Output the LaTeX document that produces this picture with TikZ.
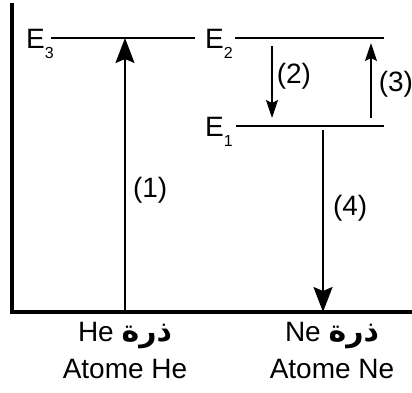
\documentclass[tikz,border=0pt]{standalone}
\usepackage{fontspec}
\setmainfont{Liberation Sans}
\newfontfamily\arabicfont[Script=Arabic]{DejaVu Sans}
\TeXXeTstate=1
\usepackage{tikz}
\usetikzlibrary{positioning,calc,arrows.meta}
\newcommand{\lev}[1]{E\raisebox{-10pt}{\fontsize{16}{16}\selectfont #1}}
\newcommand{\dharra}{{\arabicfont\bfseries\fontsize{30}{37}\selectfont\beginR ذرة\endR}}

\begin{document}
\begin{tikzpicture}[
      x=1pt, y=-1pt,
      axis/.style={line width=3.2pt},
      level/.style={line width=1.6pt},
      bigarrow/.style={-{Stealth[length=25pt,width=19pt,inset=4pt]}, line width=2pt},
      smallarrow/.style={-{Stealth[length=18pt,width=12pt,inset=3pt]}, line width=1.7pt},
      lbl/.style={font=\fontsize{28}{37}\selectfont, inner sep=0pt, align=center}
    ]
      \useasboundingbox (0,0) rectangle (412,392);

      % axes
      \coordinate (top) at (12,3);
      \coordinate (origin) at (12,312);
      \coordinate (far) at (412,312);
      \draw[axis] (top) -- (origin) -- (far);

      % energy levels
      \node[lbl, anchor=base west] (e3) at (26,48) {\lev{3}};
      \node[lbl, anchor=base west] (e2) at (205,48) {\lev{2}};
      \node[lbl, anchor=base west] (e1) at (205,136) {\lev{1}};
      \draw[level] (51,38) coordinate (e3a) -- (195,38) coordinate (e3b);
      \draw[level] (235,38) coordinate (e2a) -- (384,38) coordinate (e2b);
      \draw[level] (236,126) coordinate (e1a) -- (384,126) coordinate (e1b);

      % transitions
      \coordinate (hebase) at (125,312);
      \coordinate (hetop) at (125,38);
      \coordinate (downtop) at (272,46);
      \coordinate (downbot) at (272,118);
      \coordinate (upbot) at (371,118);
      \coordinate (uptop) at (371,43);
      \coordinate (netop) at (323,130);
      \coordinate (nebase) at (323,312);

      \draw[bigarrow] (hebase) -- node[lbl, pos=0.445, right=7pt] {(1)} (hetop);
      \draw[smallarrow] (downtop) -- node[lbl, pos=0.42, right=4pt] {(2)} (downbot);
      \draw[smallarrow] (upbot) -- node[lbl, pos=0.45, right=7pt] {(3)} (uptop);
      \draw[bigarrow] (netop) -- node[lbl, pos=0.43, right=9pt] {(4)} (nebase);

      % atoms
      \node[lbl, anchor=north] (he) at (125,322) {He \dharra\\Atome He};
      \node[lbl, anchor=north] (ne) at (332,322) {Ne \dharra\\Atome Ne};
    \end{tikzpicture}
\end{document}
